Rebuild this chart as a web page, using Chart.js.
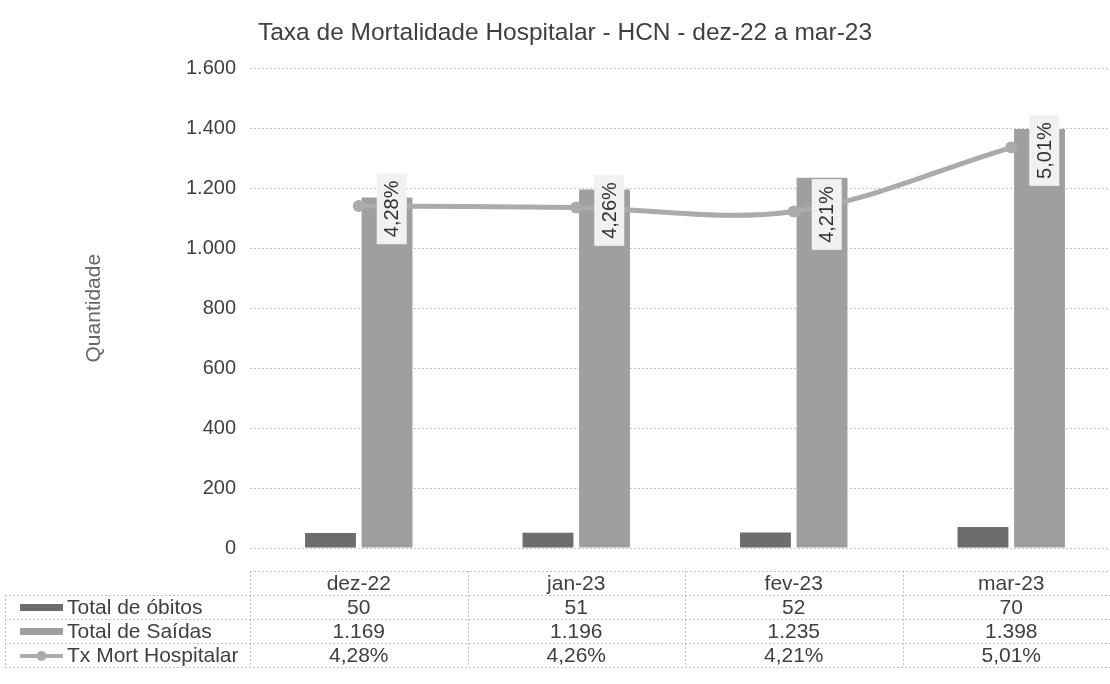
<!DOCTYPE html>
<html>
<head>
<meta charset="utf-8">
<script src="https://cdn.jsdelivr.net/npm/chart.js@4.4.1/dist/chart.umd.min.js"></script>
<style>
  html, body { margin: 0; padding: 0; background: #ffffff; overflow: hidden; }
  #wrap { position: relative; width: 1132px; height: 684px; }
</style>
</head>
<body>
<div id="wrap"><canvas id="c" width="1132" height="684"></canvas></div>
<script>
const chartTitle = 'Taxa de Mortalidade Hospitalar - HCN - dez-22 a mar-23';
const axisTitle = 'Quantidade';
const categories = ['dez-22', 'jan-23', 'fev-23', 'mar-23'];
const seriesNames = ['Total de óbitos', 'Total de Saídas', 'Tx Mort Hospitalar'];
const obitos = [50, 51, 52, 70];
const saidas = [1169, 1196, 1235, 1398];
const txMort = [4.28, 4.26, 4.21, 5.01];
const yMax = 1600;
const yStep = 200;
const y2Max = 6;

const FONT = '"Liberation Sans", Arial, sans-serif';
const colObitos = '#6d6d6d';
const colSaidas = '#9f9f9f';
const colTx = '#ababab';
const textCol = '#404040';

function fmtInt(v) {
  return String(Math.round(v)).replace(/\B(?=(\d{3})+(?!\d))/g, '.');
}
function fmtPct(v) {
  return v.toFixed(2).replace('.', ',') + '%';
}

const labelPlugin = {
  id: 'pctLabels',
  afterDatasetsDraw(chart) {
    const ctx = chart.ctx;
    const meta = chart.getDatasetMeta(2);
    ctx.save();
    ctx.font = '20px ' + FONT;
    meta.data.forEach((pt, i) => {
      const txt = fmtPct(txMort[i]);
      const w = ctx.measureText(txt).width + 14;
      const h = 30;
      ctx.save();
      ctx.translate(pt.x + 33, pt.y + 3);
      ctx.rotate(-Math.PI / 2);
      ctx.fillStyle = '#f1f1f1';
      ctx.fillRect(-w / 2, -h / 2, w, h);
      ctx.fillStyle = '#333333';
      ctx.textAlign = 'center';
      ctx.textBaseline = 'middle';
      ctx.fillText(txt, 0, 1);
      ctx.restore();
    });
    ctx.restore();
  }
};

const tablePlugin = {
  id: 'dataTable',
  afterDraw(chart) {
    const ctx = chart.ctx;
    const x = chart.scales.x;
    const n = categories.length;
    const cw = x.getPixelForValue(1) - x.getPixelForValue(0);
    const colLeft = x.getPixelForValue(0) - cw / 2;
    const colRight = x.getPixelForValue(n - 1) + cw / 2;
    const tableLeft = 5;
    const top = chart.chartArea.bottom + 23;
    const rh = 24;
    const rows = [obitos.map(fmtInt), saidas.map(fmtInt), txMort.map(fmtPct)];

    ctx.save();
    ctx.strokeStyle = '#c0c0c0';
    ctx.lineWidth = 1;
    ctx.setLineDash([2, 2]);
    const hl = (yy, x1, x2) => { ctx.beginPath(); ctx.moveTo(x1, Math.round(yy) + 0.5); ctx.lineTo(x2, Math.round(yy) + 0.5); ctx.stroke(); };
    const vl = (xx, y1, y2) => { ctx.beginPath(); ctx.moveTo(Math.round(xx) + 0.5, y1); ctx.lineTo(Math.round(xx) + 0.5, y2); ctx.stroke(); };
    hl(top, colLeft, colRight);
    for (let r = 1; r <= 4; r++) hl(top + r * rh, tableLeft, colRight);
    for (let i = 0; i <= n; i++) vl(colLeft + i * cw, top, top + 4 * rh);
    vl(tableLeft, top + rh, top + 4 * rh);
    ctx.setLineDash([]);

    ctx.fillStyle = textCol;
    ctx.font = '21px ' + FONT;
    ctx.textAlign = 'center';
    ctx.textBaseline = 'middle';
    categories.forEach((c, i) => ctx.fillText(c, x.getPixelForValue(i), top + rh / 2 + 1));
    rows.forEach((vals, r) => {
      const yy = top + (r + 1) * rh + rh / 2 + 1;
      vals.forEach((v, i) => ctx.fillText(v, x.getPixelForValue(i), yy));
    });

    // legend keys + series names
    ctx.textAlign = 'left';
    seriesNames.forEach((name, r) => {
      const yy = top + (r + 1) * rh + rh / 2 + 1;
      if (r === 0) { ctx.fillStyle = colObitos; ctx.fillRect(20, yy - 4, 43, 7); }
      else if (r === 1) { ctx.fillStyle = colSaidas; ctx.fillRect(20, yy - 4, 43, 7); }
      else {
        ctx.strokeStyle = colTx; ctx.lineWidth = 4;
        ctx.beginPath(); ctx.moveTo(20, yy); ctx.lineTo(63, yy); ctx.stroke();
        ctx.fillStyle = colTx;
        ctx.beginPath(); ctx.arc(41.5, yy, 5, 0, Math.PI * 2); ctx.fill();
      }
      ctx.fillStyle = textCol;
      ctx.fillText(name, 67, yy);
    });
    ctx.restore();
  }
};

new Chart(document.getElementById('c'), {
  data: {
    labels: categories,
    datasets: [
      {
        type: 'bar', label: seriesNames[0], data: obitos,
        backgroundColor: colObitos, yAxisID: 'y', order: 2,
        categoryPercentage: 0.52, barPercentage: 0.9
      },
      {
        type: 'bar', label: seriesNames[1], data: saidas,
        backgroundColor: colSaidas, yAxisID: 'y', order: 2,
        categoryPercentage: 0.52, barPercentage: 0.9
      },
      {
        type: 'line', label: seriesNames[2], data: txMort,
        borderColor: colTx, backgroundColor: colTx, borderWidth: 5,
        pointRadius: 6, pointBackgroundColor: colTx, pointBorderWidth: 0,
        tension: 0.35, yAxisID: 'y2', order: 0
      }
    ]
  },
  options: {
    responsive: false,
    animation: false,
    events: [],
    layout: { padding: { left: 10, right: 12, top: 0, bottom: 0 } },
    plugins: {
      legend: { display: false },
      tooltip: { enabled: false },
      title: {
        display: true, text: chartTitle, color: textCol,
        font: { family: FONT, size: 24.5, weight: 'normal' },
        padding: { top: 19, bottom: 20 }
      }
    },
    scales: {
      x: {
        type: 'category',
        grid: { display: false },
        border: { display: false },
        ticks: { display: false },
        afterFit(s) { s.height = 136; }
      },
      y: {
        position: 'left',
        min: 0, max: yMax,
        ticks: {
          stepSize: yStep, color: textCol, padding: 14,
          font: { family: FONT, size: 20 },
          callback: (v) => fmtInt(v)
        },
        grid: { color: '#c6c6c6', lineWidth: 1, drawTicks: false },
        border: { display: false, dash: [2, 2] },
        title: {
          display: true, text: axisTitle, color: '#666666',
          font: { family: FONT, size: 21 },
          padding: { top: 72, bottom: 0 }
        },
        afterFit(s) { s.width = 240; }
      },
      y2: {
        position: 'right', display: false,
        min: 0, max: y2Max
      }
    }
  },
  plugins: [labelPlugin, tablePlugin]
});
</script>
</body>
</html>
